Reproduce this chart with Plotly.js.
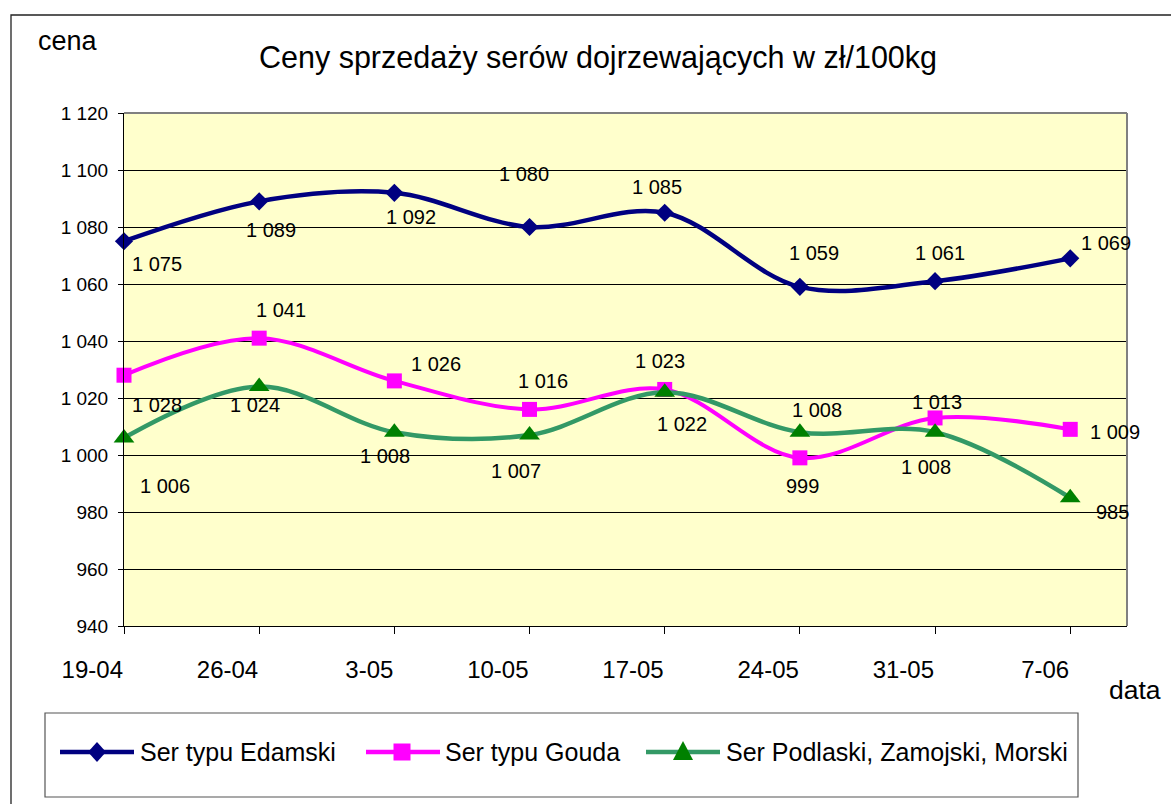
<!DOCTYPE html>
<html>
<head>
<meta charset="utf-8">
<script src="https://cdn.plot.ly/plotly-3.0.1.min.js"></script>
<style>html,body{margin:0;padding:0;background:#fff;}</style>
</head>
<body>
<div id="chart" style="width:1171px;height:804px;"></div>
<script>
// ---- data ----
const categories = ['19-04','26-04','3-05','10-05','17-05','24-05','31-05','7-06'];
const edamski  = [1075,1089,1092,1080,1085,1059,1061,1069];
const gouda    = [1028,1041,1026,1016,1023,999,1013,1009];
const podlaski = [1006,1024,1008,1007,1022,1008,1008,985];
const seriesNames = ['Ser typu Edamski','Ser typu Gouda','Ser Podlaski, Zamojski, Morski'];

// ---- label placement (pixel offsets of data labels from their points) ----
const edamskiLabelOffset  = [[33,23],[12,29],[17,24],[-6,-53],[-8,-26],[14,-34],[5,-28],[36,-15]];
const goudaLabelOffset    = [[33,30],[22,-28],[42,-17],[13,-28],[-5,-28],[3,28],[2,-16],[45,3]];
const podlaskiLabelOffset = [[41,48],[-4,18],[-9,24],[-14,36],[17,32],[17,-22],[-9,35],[42,14]];

const W = 1171, H = 804;
const PL = 124, PR = 1127, PT = 113, PB = 626;
const px = x => x / W;
const py = y => 1 - y / H;
const FONT = 'Liberation Sans, Arial, sans-serif';

function fmt(v) {
  if (v >= 1000) return Math.floor(v / 1000) + ' ' + String(v % 1000).padStart(3, '0');
  return String(v);
}

const styles = [
  {line: '#000080', marker: '#000080', symbol: 'diamond', size: 14, width: 4.5},
  {line: '#FF00FF', marker: '#FF00FF', symbol: 'square', size: 15, width: 4},
  {line: '#339966', marker: '#008000', symbol: 'triangle-up', size: 18, width: 4.5}
];
const values = [edamski, gouda, podlaski];
const offsets = [edamskiLabelOffset, goudaLabelOffset, podlaskiLabelOffset];

const traces = values.map((vals, k) => ({
  type: 'scatter', mode: 'lines+markers',
  x: categories, y: vals, name: seriesNames[k],
  line: {color: styles[k].line, width: styles[k].width, shape: 'spline', smoothing: 1},
  marker: {color: styles[k].marker, symbol: styles[k].symbol, size: styles[k].size, line: {width: 0}},
  cliponaxis: false, showlegend: false, hoverinfo: 'x+y'
}));

const annotations = [];
values.forEach((vals, k) => {
  vals.forEach((v, i) => {
    annotations.push({
      xref: 'x', yref: 'y', x: i, y: v, text: fmt(v), showarrow: false,
      xanchor: 'center', yanchor: 'middle',
      xshift: offsets[k][i][0], yshift: -offsets[k][i][1],
      font: {family: FONT, size: 20, color: '#000'}
    });
  });
});
// axis titles
annotations.push({xref:'paper', yref:'paper', x:px(36), y:py(41), xanchor:'left', yanchor:'middle',
  text:'cena', showarrow:false, font:{family:FONT, size:27, color:'#000'}});
annotations.push({xref:'paper', yref:'paper', x:px(1107), y:py(690), xanchor:'left', yanchor:'middle',
  text:'data', showarrow:false, font:{family:FONT, size:26.5, color:'#000'}});

// custom legend
const legendItems = [
  {x0: 60, x1: 134, mx: 97, tx: 138},
  {x0: 366, x1: 440, mx: 402, tx: 443},
  {x0: 646, x1: 720, mx: 683, tx: 724}
];
const LY = 752;
const shapes = [];
// outer chart border
shapes.push({type:'rect', xref:'paper', yref:'paper', x0:px(11), y0:py(15), x1:px(1190), y1:py(830),
  line:{color:'#222', width:1.3}, fillcolor:'rgba(0,0,0,0)'});
// plot area top & right border
shapes.push({type:'line', xref:'paper', yref:'paper', x0:px(PL), y0:py(PT), x1:px(PR), y1:py(PT), line:{color:'#808080', width:2}});
shapes.push({type:'line', xref:'paper', yref:'paper', x0:px(PR), y0:py(PT), x1:px(PR), y1:py(PB), line:{color:'#808080', width:2}});
// legend box
shapes.push({type:'rect', xref:'paper', yref:'paper', x0:px(45), y0:py(713), x1:px(1078), y1:py(797),
  line:{color:'#555', width:1.2}, fillcolor:'rgba(0,0,0,0)'});
const P = (x, y) => px(x) + ',' + py(y);
legendItems.forEach((it, k) => {
  shapes.push({type:'line', xref:'paper', yref:'paper', x0:px(it.x0), y0:py(LY), x1:px(it.x1), y1:py(LY),
    line:{color:styles[k].line, width:4.6}});
  let path;
  const c = it.mx;
  if (k === 0) path = 'M' + P(c, LY-10) + ' L' + P(c+9, LY) + ' L' + P(c, LY+10) + ' L' + P(c-9, LY) + ' Z';
  else if (k === 1) path = 'M' + P(c-8.5, LY-8.5) + ' L' + P(c+8.5, LY-8.5) + ' L' + P(c+8.5, LY+8.5) + ' L' + P(c-8.5, LY+8.5) + ' Z';
  else path = 'M' + P(c, LY-11) + ' L' + P(c+10, LY+8) + ' L' + P(c-10, LY+8) + ' Z';
  shapes.push({type:'path', xref:'paper', yref:'paper', path: path, fillcolor: styles[k].marker, line:{width:0}});
  annotations.push({xref:'paper', yref:'paper', x:px(it.tx), y:py(LY), xanchor:'left', yanchor:'middle',
    text: seriesNames[k], showarrow:false, font:{family:FONT, size:25, color:'#000'}});
});

const layout = {
  width: W, height: H,
  margin: {l:0, r:0, t:0, b:0, pad:0},
  paper_bgcolor: '#ffffff', plot_bgcolor: '#FFFFCC',
  separators: ', ',
  font: {family: FONT, color: '#000'},
  title: {text: 'Ceny sprzedaży serów dojrzewających w zł/100kg', x: px(598), xanchor: 'center',
          y: py(57), yanchor: 'middle', xref: 'paper', yref: 'container',
          font: {family: FONT, size: 30.5, color: '#000'}},
  xaxis: {
    domain: [px(PL), px(PR)], type: 'category', range: [0, 7.42],
    showgrid: false, zeroline: false, showline: true, linecolor: '#000', linewidth: 1,
    ticks: 'outside', ticklen: 7, tickcolor: '#000', tickwidth: 1,
    ticklabelposition: 'outside left', ticklabelstandoff: 22,
    tickfont: {family: FONT, size: 24, color: '#000'}, fixedrange: true
  },
  yaxis: {
    domain: [py(PB), py(PT)], range: [940, 1120], tick0: 940, dtick: 20,
    showgrid: true, gridcolor: '#000', gridwidth: 1, zeroline: false,
    showline: true, linecolor: '#000', linewidth: 1,
    ticks: 'outside', ticklen: 5, tickcolor: '#000', tickwidth: 1,
    tickformat: ',d', ticklabelstandoff: 6,
    tickfont: {family: FONT, size: 19, color: '#000'}, fixedrange: true
  },
  shapes: shapes,
  annotations: annotations,
  showlegend: false
};

Plotly.newPlot('chart', traces, layout, {displayModeBar: false, staticPlot: true});
</script>
</body>
</html>
